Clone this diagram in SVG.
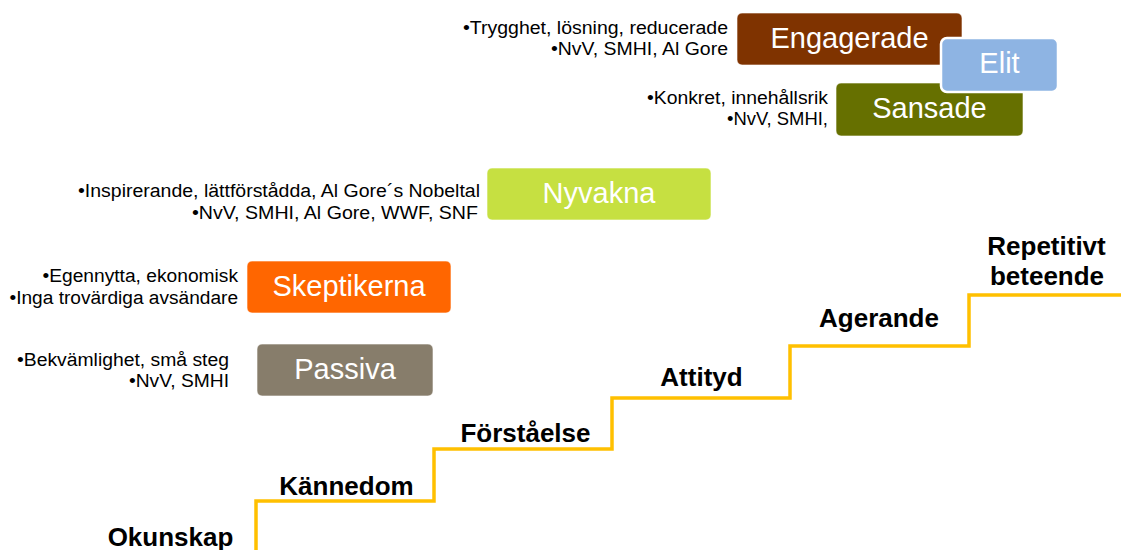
<svg xmlns="http://www.w3.org/2000/svg" width="1121" height="550" viewBox="0 0 1121 550">
<style>
.bg{fill:#ffffff}
.box{stroke:#ffffff;stroke-opacity:0.6;stroke-width:1}
.bt{font-family:"Liberation Sans",Arial,sans-serif;font-size:29px;fill:#ffffff;text-anchor:middle}
.lt{font-family:"Liberation Sans",Arial,sans-serif;font-size:18px;fill:#000000}
.st{font-family:"Liberation Sans",Arial,sans-serif;font-size:26px;font-weight:bold;fill:#000000;text-anchor:middle}
.stair{fill:none;stroke:#FFC000;stroke-width:3.5;stroke-linejoin:miter}
</style>
<rect class="bg" x="0" y="0" width="1121" height="550"/>

<g id="connectors">
<path class="stair" d="M256,550 V501 H434 V449 H612 V398 H790 V346 H969 V295 H1121"/>
</g>

<g id="engagerade">
<rect class="box" x="737" y="13" width="225" height="52" rx="5" fill="#7F3300"/>
<text class="bt" x="849.5" y="47.5">Engagerade</text>
<text class="lt" x="463" y="34" textLength="265" lengthAdjust="spacingAndGlyphs">•Trygghet, lösning, reducerade</text>
<text class="lt" x="551" y="55" textLength="177" lengthAdjust="spacingAndGlyphs">•NvV, SMHI, Al Gore</text>
</g>

<g id="sansade">
<rect class="box" x="836" y="83" width="187" height="53" rx="5" fill="#667000"/>
<text class="bt" x="929.5" y="118">Sansade</text>
<text class="lt" x="647" y="103.5" textLength="181" lengthAdjust="spacingAndGlyphs">•Konkret, innehållsrik</text>
<text class="lt" x="727" y="125" textLength="101" lengthAdjust="spacingAndGlyphs">•NvV, SMHI,</text>
</g>

<g id="elit">
<rect x="941" y="38" width="117" height="54" rx="6" fill="#8EB4E3" stroke="#ffffff" stroke-width="2.5"/>
<text class="bt" x="999.5" y="73">Elit</text>
</g>

<g id="nyvakna">
<rect class="box" x="487" y="168" width="224" height="52" rx="5" fill="#C6E041"/>
<text class="bt" x="599" y="203">Nyvakna</text>
<text class="lt" x="78" y="197" textLength="402" lengthAdjust="spacingAndGlyphs">•Inspirerande, lättförstådda, Al Gore´s Nobeltal</text>
<text class="lt" x="192" y="218.5" textLength="286" lengthAdjust="spacingAndGlyphs">•NvV, SMHI, Al Gore, WWF, SNF</text>
</g>

<g id="skeptikerna">
<rect class="box" x="247" y="261" width="204" height="52" rx="5" fill="#FF6600"/>
<text class="bt" x="349" y="296">Skeptikerna</text>
<text class="lt" x="42.5" y="282" textLength="195.5" lengthAdjust="spacingAndGlyphs">•Egennytta, ekonomisk</text>
<text class="lt" x="9.5" y="304" textLength="228.5" lengthAdjust="spacingAndGlyphs">•Inga trovärdiga avsändare</text>
</g>

<g id="passiva">
<rect class="box" x="257" y="344" width="176" height="52" rx="5" fill="#877D6B"/>
<text class="bt" x="345" y="379">Passiva</text>
<text class="lt" x="17" y="365.5" textLength="212" lengthAdjust="spacingAndGlyphs">•Bekvämlighet, små steg</text>
<text class="lt" x="129" y="387" textLength="100" lengthAdjust="spacingAndGlyphs">•NvV, SMHI</text>
</g>

<g id="steps">
<text class="st" x="170.5" y="546">Okunskap</text>
<text class="st" x="346.5" y="495">Kännedom</text>
<text class="st" x="525.5" y="442">Förståelse</text>
<text class="st" x="701.5" y="386">Attityd</text>
<text class="st" x="879" y="327">Agerande</text>
<text class="st" x="1046.5" y="255">Repetitivt</text>
<text class="st" x="1047" y="285">beteende</text>
</g>
</svg>
